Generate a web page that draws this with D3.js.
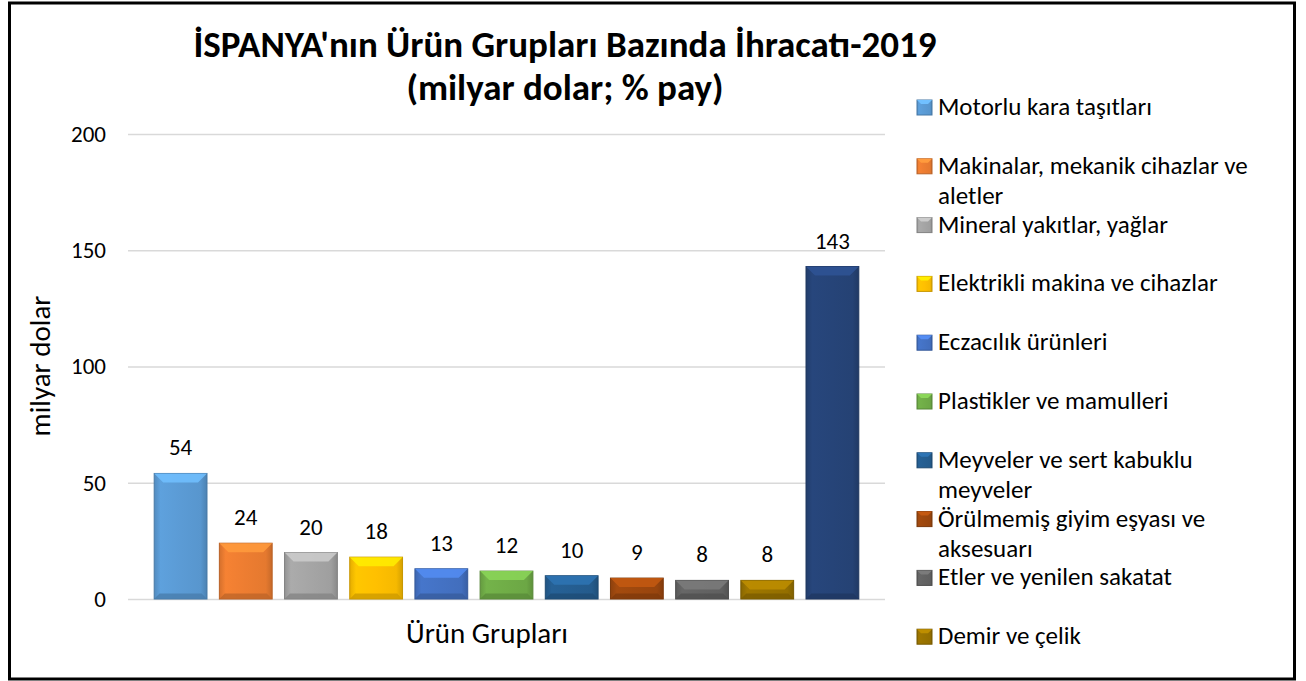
<!DOCTYPE html>
<html>
<head>
<meta charset="utf-8">
<script src="https://cdn.jsdelivr.net/npm/d3@7"></script>
<style>
  body { margin: 0; background: #fff; }
  svg { display: block; font-family: Carlito, Lato, "Open Sans", sans-serif; }
</style>
</head>
<body>
<svg id="chart" width="1306" height="681"></svg>
<script>
// chart data
const categories = [
  "Motorlu kara taşıtları",
  "Makinalar, mekanik cihazlar ve aletler",
  "Mineral yakıtlar, yağlar",
  "Elektrikli makina ve cihazlar",
  "Eczacılık ürünleri",
  "Plastikler ve mamulleri",
  "Meyveler ve sert kabuklu meyveler",
  "Örülmemiş giyim eşyası ve aksesuarı",
  "Etler ve yenilen sakatat",
  "Demir ve çelik",
  "Diğer"
];
const values = [54, 24, 20, 18, 13, 12, 10, 9, 8, 8, 143];
// legend lines as they wrap in the original
const legendLines = [
  ["Motorlu kara taşıtları"],
  ["Makinalar, mekanik cihazlar ve", "aletler"],
  ["Mineral yakıtlar, yağlar"],
  ["Elektrikli makina ve cihazlar"],
  ["Eczacılık ürünleri"],
  ["Plastikler ve mamulleri"],
  ["Meyveler ve sert kabuklu", "meyveler"],
  ["Örülmemiş giyim eşyası ve", "aksesuarı"],
  ["Etler ve yenilen sakatat"],
  ["Demir ve çelik"]
];
const yTicks = [0, 50, 100, 150, 200];

// Office palette
const colors = ['#5B9BD5', '#ED7D31', '#A5A5A5', '#FFC000', '#4472C4', '#70AD47',
                '#255E91', '#9E480E', '#636363', '#997300', '#264478'];

const svg = d3.select('#chart');

// outer frame
svg.append('rect')
  .attr('x', 9.5).attr('y', 3)
  .attr('width', 1285).attr('height', 676)
  .attr('fill', '#fff').attr('stroke', '#000').attr('stroke-width', 3);

const plotLeft = 128, plotRight = 885, plotTop = 134, plotBottom = 599;

const x = d3.scaleBand()
  .domain(d3.range(values.length))
  .range([148, 865])
  .paddingInner(0.19)
  .paddingOuter(0.095);

const y = d3.scaleLinear().domain([0, 200]).range([plotBottom, plotTop]);

// gridlines
svg.append('g')
  .selectAll('line')
  .data(yTicks)
  .join('line')
  .attr('x1', plotLeft).attr('x2', plotRight)
  .attr('y1', d => y(d) + 0.5).attr('y2', d => y(d) + 0.5)
  .attr('stroke', '#d9d9d9').attr('stroke-width', 1.5);

// y axis
const yAxis = d3.axisLeft(y).tickValues(yTicks).tickSize(0).tickPadding(0);
const gy = svg.append('g')
  .attr('transform', 'translate(106,0)')
  .call(yAxis);
gy.select('.domain').remove();
gy.selectAll('text')
  .attr('font-size', 23).attr('fill', '#000')
  .attr('font-family', 'Carlito, Lato, sans-serif');

// gradients for bevel look
const defs = svg.append('defs');
colors.forEach((c, i) => {
  const g = defs.append('linearGradient')
    .attr('id', 'grad' + i)
    .attr('x1', 0).attr('x2', 1).attr('y1', 0).attr('y2', 0);
  g.append('stop').attr('offset', '0%').attr('stop-color', d3.color(c).darker(0.3));
  g.append('stop').attr('offset', '12%').attr('stop-color', d3.color(c).brighter(0.1));
  g.append('stop').attr('offset', '50%').attr('stop-color', c);
  g.append('stop').attr('offset', '88%').attr('stop-color', d3.color(c).darker(0.1));
  g.append('stop').attr('offset', '100%').attr('stop-color', d3.color(c).darker(0.5));
});

const bev = 9; // bevel depth
const bars = svg.append('g')
  .selectAll('g')
  .data(values)
  .join('g');

bars.append('rect')
  .attr('x', (d, i) => x(i))
  .attr('y', d => y(d))
  .attr('width', x.bandwidth())
  .attr('height', d => y(0) - y(d))
  .attr('fill', (d, i) => `url(#grad${i})`)
  .attr('stroke', (d, i) => d3.color(colors[i]).darker(0.7))
  .attr('stroke-width', 1);

// top bevel (lighter trapezoid)
bars.append('path')
  .attr('d', (d, i) => {
    const x0 = x(i), x1 = x(i) + x.bandwidth(), t = y(d);
    const b = Math.min(bev, (y(0) - y(d)) / 2);
    return `M${x0},${t}L${x1},${t}L${x1 - b},${t + b}L${x0 + b},${t + b}Z`;
  })
  .attr('fill', (d, i) => d3.color(colors[i]).brighter(0.6))
  .attr('opacity', 0.85);

// bottom bevel (darker trapezoid)
bars.append('path')
  .attr('d', (d, i) => {
    const x0 = x(i), x1 = x(i) + x.bandwidth(), btm = y(0);
    const b = Math.min(bev, (y(0) - y(d)) / 2) * 0.6;
    return `M${x0},${btm}L${x1},${btm}L${x1 - b},${btm - b}L${x0 + b},${btm - b}Z`;
  })
  .attr('fill', (d, i) => d3.color(colors[i]).darker(0.6))
  .attr('opacity', 0.8);

// data labels
svg.append('g')
  .selectAll('text')
  .data(values)
  .join('text')
  .attr('x', (d, i) => x(i) + x.bandwidth() / 2)
  .attr('y', d => y(d) - 18)
  .attr('text-anchor', 'middle')
  .attr('font-size', 23)
  .text(d => d);

// title
const title = svg.append('text')
  .attr('text-anchor', 'middle')
  .attr('font-weight', 'bold')
  .attr('font-size', 37);
title.append('tspan').attr('x', 565).attr('y', 57)
  .text("İSPANYA'nın Ürün Grupları Bazında İhracatı-2019");
title.append('tspan').attr('x', 565).attr('y', 100)
  .text('(milyar dolar; % pay)');

// axis titles
svg.append('text')
  .attr('transform', 'translate(50,366) rotate(-90)')
  .attr('text-anchor', 'middle')
  .attr('font-size', 29)
  .text('milyar dolar');

svg.append('text')
  .attr('x', 487).attr('y', 643)
  .attr('text-anchor', 'middle')
  .attr('font-size', 29)
  .text('Ürün Grupları');

// legend
const legend = svg.append('g')
  .selectAll('g')
  .data(legendLines)
  .join('g')
  .attr('transform', (d, i) => `translate(917,${107 + i * 58.8})`);

legend.append('rect')
  .attr('x', 0).attr('y', -7)
  .attr('width', 15).attr('height', 15)
  .attr('fill', (d, i) => `url(#grad${i})`)
  .attr('stroke', (d, i) => d3.color(colors[i]).darker(0.7));
legend.append('path')
  .attr('d', 'M0,-7L15,-7L11,-3L4,-3Z')
  .attr('fill', (d, i) => d3.color(colors[i]).brighter(0.6));

legend.append('text')
  .attr('x', 21)
  .attr('font-size', 25)
  .selectAll('tspan')
  .data(d => d)
  .join('tspan')
  .attr('x', 21)
  .attr('y', (d, j) => 8 + j * 30)
  .text(d => d);
</script>
</body>
</html>
